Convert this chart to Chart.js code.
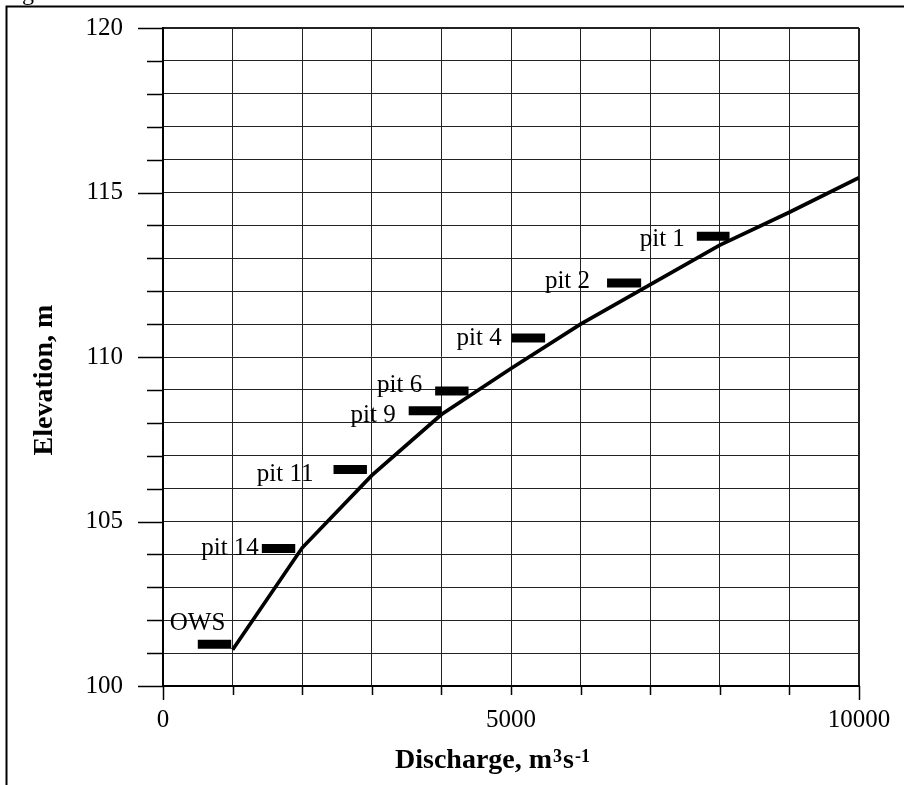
<!DOCTYPE html>
<html>
<head>
<meta charset="utf-8">
<script src="https://cdn.jsdelivr.net/npm/chart.js@4"></script>
<style>
  html, body { margin: 0; padding: 0; background: #fff; }
  #wrap { width: 904px; height: 785px; }
</style>
</head>
<body>
<div id="wrap"><canvas id="c" width="904" height="785"></canvas></div>
<script>
// ---- data ----
const discharge = [1000, 2000, 3000, 4000, 5000, 6000, 7000, 8000, 9000, 10000];
const elevation = [101.1, 104.2, 106.4, 108.25, 109.65, 111.0, 112.2, 113.4, 114.4, 115.45];

const pitNames = ['OWS', 'pit 14', 'pit 11', 'pit 9', 'pit 6', 'pit 4', 'pit 2', 'pit 1'];
const pitFrom  = [500, 1420, 2450, 3530, 3910, 5010, 6380, 7670];
const pitTo    = [980, 1900, 2930, 4000, 4390, 5490, 6870, 8140];
const pitElev  = [101.27, 104.18, 106.58, 108.37, 108.97, 110.58, 112.25, 113.67];

const xTickLabels = [0, 5000, 10000];
const yTickLabels = [100, 105, 110, 115, 120];

const xTitle = ['Discharge, m', '3', 's', '-1'];
const yTitle = 'Elevation, m';

// ---- style (not data) ----
const FONT = "'Liberation Serif', 'Times New Roman', serif";
const labelStyle = [
  { align: 'left',  dx: -28, dy: -14 },
  { align: 'right', dx: -3,  dy: 7 },
  { align: 'right', dx: -20, dy: 11.5 },
  { align: 'right', dx: -13, dy: 11 },
  { align: 'right', dx: -13, dy: 1 },
  { align: 'right', dx: -10, dy: 7 },
  { align: 'right', dx: -17, dy: 5 },
  { align: 'right', dx: -12, dy: 10 }
];

Chart.defaults.font.family = FONT;
Chart.defaults.color = '#000';

const datasets = [{
  data: discharge.map((x, i) => ({ x: x, y: elevation[i] })),
  showLine: true,
  borderColor: '#000',
  borderWidth: 3.7,
  pointRadius: 0,
  tension: 0
}];
pitNames.forEach((n, i) => {
  datasets.push({
    label: n,
    data: [{ x: pitFrom[i], y: pitElev[i] }, { x: pitTo[i], y: pitElev[i] }],
    showLine: true,
    borderColor: '#000',
    borderWidth: 9,
    borderCapStyle: 'butt',
    pointRadius: 0
  });
});

function noPad(s) {
  s.paddingTop = 0; s.paddingBottom = 0; s.paddingLeft = 0; s.paddingRight = 0;
}

const decor = {
  id: 'decor',
  beforeDraw(chart) {
    const ctx = chart.ctx;
    ctx.save();
    ctx.fillStyle = '#fff';
    ctx.fillRect(0, 0, chart.width, chart.height);
    ctx.strokeStyle = '#000';
    ctx.lineWidth = 2;
    ctx.beginPath();
    ctx.moveTo(6.5, chart.height);
    ctx.lineTo(6.5, 6.5);
    ctx.lineTo(chart.width, 6.5);
    ctx.stroke();
    ctx.restore();
  },
  afterDraw(chart) {
    const ctx = chart.ctx;
    const xs = chart.scales.x, ys = chart.scales.y;
    const a = chart.chartArea;
    ctx.save();
    // tick marks
    ctx.strokeStyle = '#000';
    ctx.lineWidth = 1.5;
    ctx.beginPath();
    ys.ticks.forEach(t => {
      const py = Math.round(ys.getPixelForValue(t.value)) + 0.5;
      const len = yTickLabels.includes(t.value) ? 25 : 16;
      ctx.moveTo(a.left - len, py);
      ctx.lineTo(a.left, py);
    });
    xs.ticks.forEach(t => {
      const px = Math.round(xs.getPixelForValue(t.value)) + 0.5;
      const len = (t.value === xs.min || t.value === xs.max) ? 14 : 9;
      ctx.moveTo(px, a.bottom);
      ctx.lineTo(px, a.bottom + len);
    });
    ctx.stroke();

    // pit labels
    ctx.fillStyle = '#000';
    ctx.font = '25px ' + FONT;
    ctx.textBaseline = 'alphabetic';
    pitNames.forEach((n, i) => {
      const st = labelStyle[i];
      const px = xs.getPixelForValue(pitFrom[i]);
      const py = ys.getPixelForValue(pitElev[i]);
      ctx.textAlign = st.align;
      ctx.fillText(n, px + st.dx, py + st.dy);
    });

    // y title
    ctx.save();
    ctx.font = 'bold 28px ' + FONT;
    ctx.translate(52, 380);
    ctx.rotate(-Math.PI / 2);
    ctx.textAlign = 'center';
    ctx.fillText(yTitle, 0, 0);
    ctx.restore();

    // x title with superscripts
    const base = 768;
    let x = 395;
    ctx.textAlign = 'left';
    xTitle.forEach((part, i) => {
      const sup = (i % 2 === 1);
      ctx.font = 'bold ' + (sup ? 18 : 28) + 'px ' + FONT;
      ctx.fillText(part, x, sup ? base - 6 : base);
      x += ctx.measureText(part).width + 1;
    });

    // clipped caption fragment at the top-left
    ctx.font = '24px ' + FONT;
    ctx.fillText('Fig', 2, -0.5);
    ctx.restore();
  }
};

new Chart(document.getElementById('c'), {
  type: 'scatter',
  data: { datasets: datasets },
  plugins: [decor],
  options: {
    responsive: false,
    animation: false,
    events: [],
    layout: { padding: { left: 0, right: 45, top: 28, bottom: 0 } },
    plugins: { legend: { display: false }, tooltip: { enabled: false } },
    scales: {
      x: {
        type: 'linear',
        min: 0, max: 10000,
        afterFit: s => { s.height = 99; noPad(s); },
        border: { display: true, color: '#000', width: 2 },
        grid: {
          color: '#222',
          lineWidth: c => (c.tick && c.tick.value === 10000) ? 2 : 1,
          drawTicks: false
        },
        ticks: {
          stepSize: 1000,
          autoSkip: false,
          maxRotation: 0,
          padding: 19,
          font: { size: 25, family: FONT },
          color: '#000',
          callback: v => xTickLabels.includes(v) ? String(v) : ''
        }
      },
      y: {
        type: 'linear',
        min: 100, max: 120,
        afterFit: s => { s.width = 163; noPad(s); },
        border: { display: true, color: '#000', width: 2 },
        grid: {
          color: '#222',
          lineWidth: c => (c.tick && c.tick.value === 120) ? 2 : 1,
          drawTicks: false
        },
        ticks: {
          stepSize: 1,
          autoSkip: false,
          padding: 40,
          font: { size: 25, family: FONT },
          color: '#000',
          callback: v => yTickLabels.includes(v) ? String(v) : ''
        }
      }
    }
  }
});
</script>
</body>
</html>
